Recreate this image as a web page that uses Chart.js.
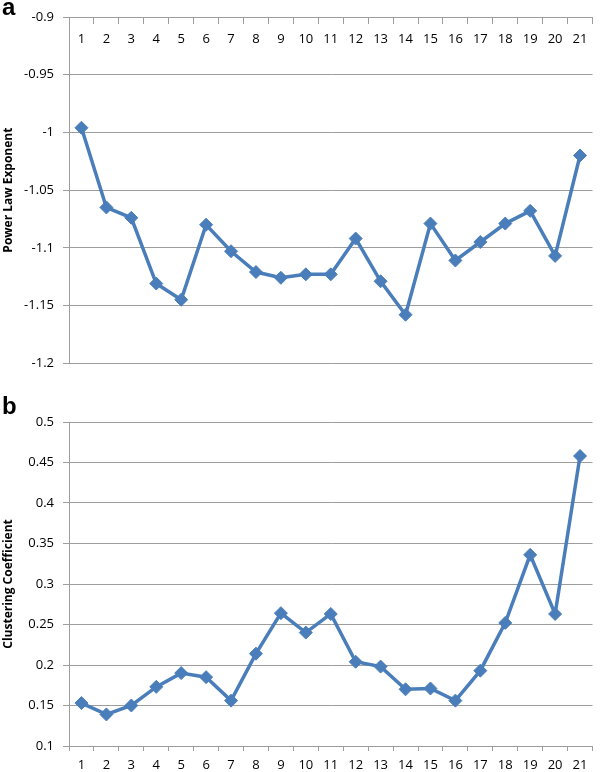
<!DOCTYPE html>
<html>
<head>
<meta charset="utf-8">
<script src="https://cdn.jsdelivr.net/npm/chart.js@4"></script>
<style>
  html, body { margin: 0; padding: 0; background: #fff; }
  #wrap { position: relative; width: 600px; height: 772px; }
  .panel { position: absolute; left: 0; width: 600px; }
  #panelA { top: 0; height: 380px; }
  #panelB { top: 380px; height: 392px; }
  .tag {
    position: absolute; left: 2px;
    font: bold 24px "Liberation Sans", Arial, sans-serif;
    line-height: 24px; color: #000;
  }
</style>
</head>
<body>
<div id="wrap">
  <div class="panel" id="panelA"><canvas id="chartA"></canvas></div>
  <div class="panel" id="panelB"><canvas id="chartB"></canvas></div>
  <div class="tag" style="top:-5px">a</div>
  <div class="tag" style="top:394px">b</div>
</div>
<script>
// categories shared by both panels
const categories = ["1","2","3","4","5","6","7","8","9","10","11","12","13","14","15","16","17","18","19","20","21"];

// panel a: power law exponent
const powerLawExponent = [-0.996, -1.065, -1.074, -1.131, -1.145, -1.080, -1.103, -1.121, -1.126, -1.123, -1.123,
  -1.092, -1.129, -1.158, -1.079, -1.111, -1.095, -1.079, -1.068, -1.107, -1.020];
const yTicksA = [-0.9, -0.95, -1, -1.05, -1.1, -1.15, -1.2];

// panel b: clustering coefficient
const clusteringCoefficient = [0.153, 0.139, 0.150, 0.173, 0.190, 0.185, 0.156, 0.214, 0.264, 0.240, 0.263,
  0.204, 0.198, 0.170, 0.171, 0.156, 0.193, 0.252, 0.336, 0.263, 0.458];
const yTicksB = [0.1, 0.15, 0.2, 0.25, 0.3, 0.35, 0.4, 0.45, 0.5];

const BLUE = "#4a7ebb";
const GRID = "#9d9d9d";
const tickFont = { family: "'Open Sans', sans-serif", size: 13 };
const titleFont = { family: "'Open Sans', sans-serif", size: 12, weight: "bold" };

const fmt = (v) => String(Number(v.toFixed(2)));

function lineDataset(values) {
  return {
    data: values,
    borderColor: BLUE,
    backgroundColor: BLUE,
    borderWidth: 3.5,
    tension: 0,
    pointStyle: "rectRot",
    pointRadius: 6.5,
    pointBorderWidth: 1,
    pointBorderColor: BLUE,
    pointBackgroundColor: BLUE,
    clip: false
  };
}

function yAxis(ticks, title) {
  return {
    min: Math.min(...ticks),
    max: Math.max(...ticks),
    afterBuildTicks: (s) => { s.ticks = ticks.map((v) => ({ value: v })); },
    afterFit: (s) => { s.width = 69; },
    grid: { color: GRID, lineWidth: 1, tickLength: 6, drawTicks: true },
    border: { color: GRID, width: 1 },
    ticks: { color: "#000", font: tickFont, padding: 9, callback: (v) => fmt(v) },
    title: { display: true, text: title, color: "#000", font: titleFont, padding: { top: 1, bottom: 0 } }
  };
}

function xTicks() {
  return { color: "#000", font: tickFont, maxRotation: 0, autoSkip: false };
}

// ---------- Panel a ----------
new Chart(document.getElementById("chartA"), {
  type: "line",
  data: { labels: categories, datasets: [lineDataset(powerLawExponent)] },
  options: {
    responsive: true,
    maintainAspectRatio: false,
    animation: false,
    layout: { padding: { top: 17, right: 2, bottom: 14, left: 0 } },
    plugins: { legend: { display: false }, tooltip: { enabled: false } },
    scales: {
      x: {
        type: "category",
        position: { y: -0.9 }, // axis sits on the top edge, labels hang inside
        offset: true,
        grid: { offset: true, drawOnChartArea: false, drawTicks: true, tickLength: 6, color: GRID },
        border: { color: GRID, width: 1 },
        ticks: Object.assign(xTicks(), { padding: 8 })
      },
      y: yAxis(yTicksA, "Power Law Exponent")
    }
  }
});

// ---------- Panel b ----------
new Chart(document.getElementById("chartB"), {
  type: "line",
  data: { labels: categories, datasets: [lineDataset(clusteringCoefficient)] },
  options: {
    responsive: true,
    maintainAspectRatio: false,
    animation: false,
    layout: { padding: { top: 42, right: 2, bottom: 0, left: 0 } },
    plugins: { legend: { display: false }, tooltip: { enabled: false } },
    scales: {
      x: {
        type: "category",
        position: "bottom",
        offset: true,
        afterFit: (s) => { s.height = 26; },
        grid: { offset: true, drawOnChartArea: false, drawTicks: true, tickLength: 5, color: GRID },
        border: { color: GRID, width: 1 },
        ticks: Object.assign(xTicks(), { padding: 6 })
      },
      y: yAxis(yTicksB, "Clustering Coefficient")
    }
  }
});
</script>
</body>
</html>
